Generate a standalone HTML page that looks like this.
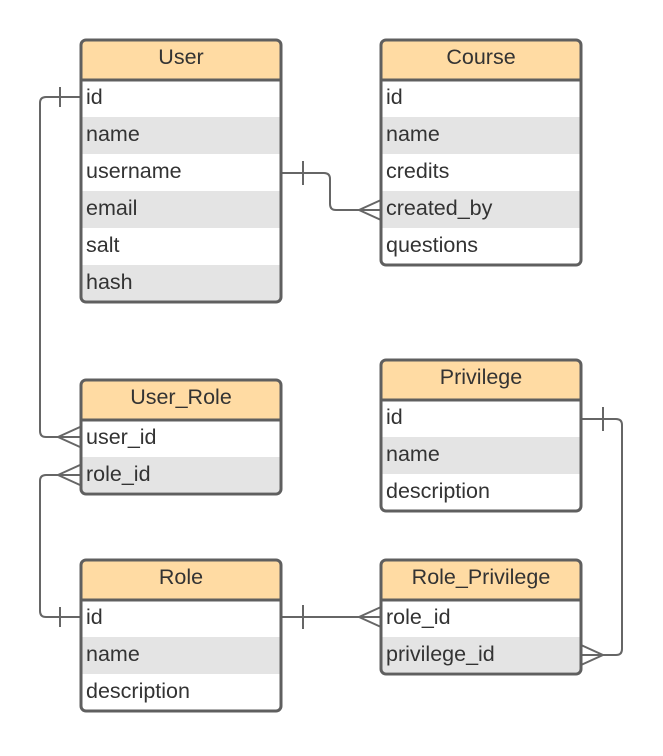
<!DOCTYPE html>
<html><head><meta charset="utf-8"><style>
body{margin:0;background:#fff}
svg text{font-family:"Liberation Sans",sans-serif;font-size:21.5px;fill:#333}
.h{text-anchor:middle}
.b{fill:none;stroke:#5f5f5f;stroke-width:3}
</style></head><body>
<svg width="663" height="751" xmlns="http://www.w3.org/2000/svg">
<g fill="none" stroke="#666" stroke-width="2">
<path d="M80 97 H46 Q40 97 40 103 V431 Q40 437 46 437 H80"/>
<path d="M60 87 V107"/><path d="M58 437 L80 427 M58 437 L80 447"/>
<path d="M80 475 H46 Q40 475 40 481 V611 Q40 617 46 617 H80"/>
<path d="M58 475 L80 465 M58 475 L80 485"/><path d="M60 607 V627"/>
<path d="M281 173 H324 Q330 173 330 179 V204 Q330 210 336 210 H381"/>
<path d="M303 161 V185"/><path d="M359 210 L381 200 M359 210 L381 220"/>
<path d="M281 617 H381"/><path d="M303 605 V629"/><path d="M359 617 L381 607 M359 617 L381 627"/>
<path d="M581 419 H616 Q622 419 622 425 V649 Q622 655 616 655 H581"/>
<path d="M603 407 V431"/><path d="M603 655 L581 645 M603 655 L581 665"/>
</g>

<!-- User -->
<rect x="81" y="40" width="200" height="262" rx="5" fill="#fff"/>
<rect x="81" y="40" width="200" height="40" rx="5" fill="#ffdba3"/><rect x="81" y="50" width="200" height="30" fill="#ffdba3"/>
<rect x="81" y="117" width="200" height="37" fill="#e4e4e4"/>
<rect x="81" y="191" width="200" height="37" fill="#e4e4e4"/>
<rect x="81" y="265" width="200" height="37" fill="#e4e4e4"/>
<rect class="b" x="81" y="40" width="200" height="262" rx="5"/><line class="b" x1="81" x2="281" y1="80" y2="80"/>
<text class="h" x="181" y="64">User</text>
<text x="86" y="104">id</text><text x="86" y="141">name</text><text x="86" y="178">username</text><text x="86" y="215">email</text><text x="86" y="252">salt</text><text x="86" y="289">hash</text>

<!-- Course -->
<rect x="381" y="40" width="200" height="225" rx="5" fill="#fff"/>
<rect x="381" y="40" width="200" height="40" rx="5" fill="#ffdba3"/><rect x="381" y="50" width="200" height="30" fill="#ffdba3"/>
<rect x="381" y="117" width="200" height="37" fill="#e4e4e4"/>
<rect x="381" y="191" width="200" height="37" fill="#e4e4e4"/>
<rect class="b" x="381" y="40" width="200" height="225" rx="5"/><line class="b" x1="381" x2="581" y1="80" y2="80"/>
<text class="h" x="481" y="64">Course</text>
<text x="386" y="104">id</text><text x="386" y="141">name</text><text x="386" y="178">credits</text><text x="386" y="215">created_by</text><text x="386" y="252">questions</text>

<!-- User_Role -->
<rect x="81" y="380" width="200" height="114" rx="5" fill="#fff"/>
<rect x="81" y="380" width="200" height="40" rx="5" fill="#ffdba3"/><rect x="81" y="390" width="200" height="30" fill="#ffdba3"/>
<rect x="81" y="457" width="200" height="35" fill="#e4e4e4"/>
<rect class="b" x="81" y="380" width="200" height="114" rx="5"/><line class="b" x1="81" x2="281" y1="420" y2="420"/>
<text class="h" x="181" y="404">User_Role</text>
<text x="86" y="444">user_id</text><text x="86" y="481">role_id</text>

<!-- Privilege -->
<rect x="381" y="360" width="200" height="151" rx="5" fill="#fff"/>
<rect x="381" y="360" width="200" height="40" rx="5" fill="#ffdba3"/><rect x="381" y="370" width="200" height="30" fill="#ffdba3"/>
<rect x="381" y="437" width="200" height="37" fill="#e4e4e4"/>
<rect class="b" x="381" y="360" width="200" height="151" rx="5"/><line class="b" x1="381" x2="581" y1="400" y2="400"/>
<text class="h" x="481" y="384">Privilege</text>
<text x="386" y="424">id</text><text x="386" y="461">name</text><text x="386" y="498">description</text>

<!-- Role -->
<rect x="81" y="560" width="200" height="151" rx="5" fill="#fff"/>
<rect x="81" y="560" width="200" height="40" rx="5" fill="#ffdba3"/><rect x="81" y="570" width="200" height="30" fill="#ffdba3"/>
<rect x="81" y="637" width="200" height="37" fill="#e4e4e4"/>
<rect class="b" x="81" y="560" width="200" height="151" rx="5"/><line class="b" x1="81" x2="281" y1="600" y2="600"/>
<text class="h" x="181" y="584">Role</text>
<text x="86" y="624">id</text><text x="86" y="661">name</text><text x="86" y="698">description</text>

<!-- Role_Privilege -->
<rect x="381" y="560" width="200" height="114" rx="5" fill="#fff"/>
<rect x="381" y="560" width="200" height="40" rx="5" fill="#ffdba3"/><rect x="381" y="570" width="200" height="30" fill="#ffdba3"/>
<rect x="381" y="637" width="200" height="35" fill="#e4e4e4"/>
<rect class="b" x="381" y="560" width="200" height="114" rx="5"/><line class="b" x1="381" x2="581" y1="600" y2="600"/>
<text class="h" x="481" y="584">Role_Privilege</text>
<text x="386" y="624">role_id</text><text x="386" y="661">privilege_id</text>
</svg>
</body></html>
